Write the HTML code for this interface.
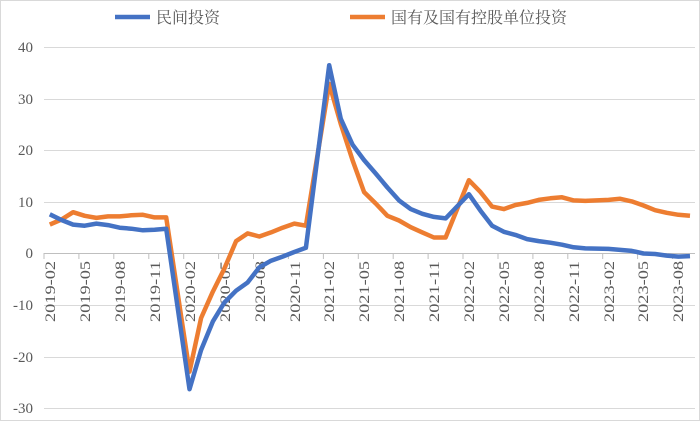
<!DOCTYPE html>
<html><head><meta charset="utf-8"><style>
html,body{margin:0;padding:0;background:#fff}
svg{display:block}
.t{font-family:"Liberation Serif","Noto Serif CJK SC",serif;fill:#595959}
</style></head><body>
<svg id="s" width="700" height="421" xmlns="http://www.w3.org/2000/svg">
<rect x="0.5" y="0.5" width="699" height="420" fill="#fff" stroke="#d9d9d9"/>
<g stroke="#d9d9d9" stroke-width="1">
<line x1="44" x2="695" y1="47.5" y2="47.5"/>
<line x1="44" x2="695" y1="99.5" y2="99.5"/>
<line x1="44" x2="695" y1="150.5" y2="150.5"/>
<line x1="44" x2="695" y1="202.5" y2="202.5"/>
<line x1="44" x2="695" y1="305.5" y2="305.5"/>
<line x1="44" x2="695" y1="357.5" y2="357.5"/>
<line x1="44" x2="695" y1="408.5" y2="408.5"/>
</g>
<g class="t" font-size="15" text-anchor="end">
<text x="33" y="52">40</text><text x="33" y="104">30</text><text x="33" y="155">20</text>
<text x="33" y="207">10</text><text x="33" y="258">0</text><text x="33" y="310">-10</text>
<text x="33" y="362">-20</text><text x="33" y="413">-30</text>
</g>
<g id="ticks" stroke="#bfbfbf"></g>
<line x1="44" x2="695" y1="253.5" y2="253.5" stroke="#bfbfbf"/>
<g class="t" font-size="15" text-anchor="end" textLength="61" lengthAdjust="spacingAndGlyphs">
<text textLength="61" lengthAdjust="spacingAndGlyphs" transform="translate(55,261) rotate(-90)">2019-02</text>
<text textLength="61" lengthAdjust="spacingAndGlyphs" transform="translate(90,261) rotate(-90)">2019-05</text>
<text textLength="61" lengthAdjust="spacingAndGlyphs" transform="translate(125,261) rotate(-90)">2019-08</text>
<text textLength="61" lengthAdjust="spacingAndGlyphs" transform="translate(160,261) rotate(-90)">2019-11</text>
<text textLength="61" lengthAdjust="spacingAndGlyphs" transform="translate(195,261) rotate(-90)">2020-02</text>
<text textLength="61" lengthAdjust="spacingAndGlyphs" transform="translate(230,261) rotate(-90)">2020-05</text>
<text textLength="61" lengthAdjust="spacingAndGlyphs" transform="translate(265,261) rotate(-90)">2020-08</text>
<text textLength="61" lengthAdjust="spacingAndGlyphs" transform="translate(300,261) rotate(-90)">2020-11</text>
<text textLength="61" lengthAdjust="spacingAndGlyphs" transform="translate(334,261) rotate(-90)">2021-02</text>
<text textLength="61" lengthAdjust="spacingAndGlyphs" transform="translate(369,261) rotate(-90)">2021-05</text>
<text textLength="61" lengthAdjust="spacingAndGlyphs" transform="translate(404,261) rotate(-90)">2021-08</text>
<text textLength="61" lengthAdjust="spacingAndGlyphs" transform="translate(439,261) rotate(-90)">2021-11</text>
<text textLength="61" lengthAdjust="spacingAndGlyphs" transform="translate(474,261) rotate(-90)">2022-02</text>
<text textLength="61" lengthAdjust="spacingAndGlyphs" transform="translate(509,261) rotate(-90)">2022-05</text>
<text textLength="61" lengthAdjust="spacingAndGlyphs" transform="translate(544,261) rotate(-90)">2022-08</text>
<text textLength="61" lengthAdjust="spacingAndGlyphs" transform="translate(579,261) rotate(-90)">2022-11</text>
<text textLength="61" lengthAdjust="spacingAndGlyphs" transform="translate(614,261) rotate(-90)">2023-02</text>
<text textLength="61" lengthAdjust="spacingAndGlyphs" transform="translate(648,261) rotate(-90)">2023-05</text>
<text textLength="61" lengthAdjust="spacingAndGlyphs" transform="translate(683,261) rotate(-90)">2023-08</text>
</g>
<polyline id="o" fill="none" stroke="#ED7D31" stroke-width="4.5" stroke-linejoin="round"/>
<polyline id="b" fill="none" stroke="#4472C4" stroke-width="4.5" stroke-linejoin="round"/>
<line x1="115" x2="150" y1="17" y2="17" stroke="#4472C4" stroke-width="4.5"/>
<text class="t" x="156" y="23" font-size="16">民间投资</text>
<line x1="350" x2="385" y1="17" y2="17" stroke="#ED7D31" stroke-width="4.5"/>
<text class="t" x="391" y="23" font-size="16">国有及国有控股单位投资</text>
</svg>
<script>
var B=[7.5,6.4,5.5,5.3,5.7,5.4,4.9,4.7,4.4,4.5,4.7,null,-26.4,-18.8,-13.3,-9.6,-7.3,-5.7,-2.8,-1.5,-0.7,0.2,1.0,null,36.4,26,21,18,15.4,12.7,10.2,8.5,7.6,7.0,6.7,null,11.4,8.2,5.3,4.1,3.5,2.7,2.3,2.0,1.6,1.1,0.9,null,0.8,0.6,0.4,-0.1,-0.2,-0.5,-0.7,-0.6];
var O=[5.5,6.5,7.9,7.2,6.8,7.1,7.1,7.3,7.4,6.9,6.9,null,-23,-12.6,-7.5,-3,2.3,3.8,3.2,4.0,4.9,5.7,5.3,null,32.8,25,18,11.8,9.6,7.2,6.3,5.0,4.0,3.0,3.0,null,14.1,11.8,9.0,8.5,9.3,9.7,10.3,10.6,10.8,10.2,10.1,null,10.3,10.5,10.0,9.2,8.3,7.8,7.4,7.2];
function pts(a){var r=[];a.forEach(function(v,i){if(v!==null)r.push((44+11.64*(i+0.5)).toFixed(1)+","+(253-v*5.16).toFixed(1));});return r.join(" ");}
document.getElementById("b").setAttribute("points",pts(B));
document.getElementById("o").setAttribute("points",pts(O));
var g=document.getElementById("ticks"),s="";
for(var i=0;i<=56;i+=3){var x=(44+11.64*i).toFixed(1);s+='<line x1="'+x+'" x2="'+x+'" y1="253" y2="259"/>';}
g.innerHTML=s;
</script>
</body></html>
